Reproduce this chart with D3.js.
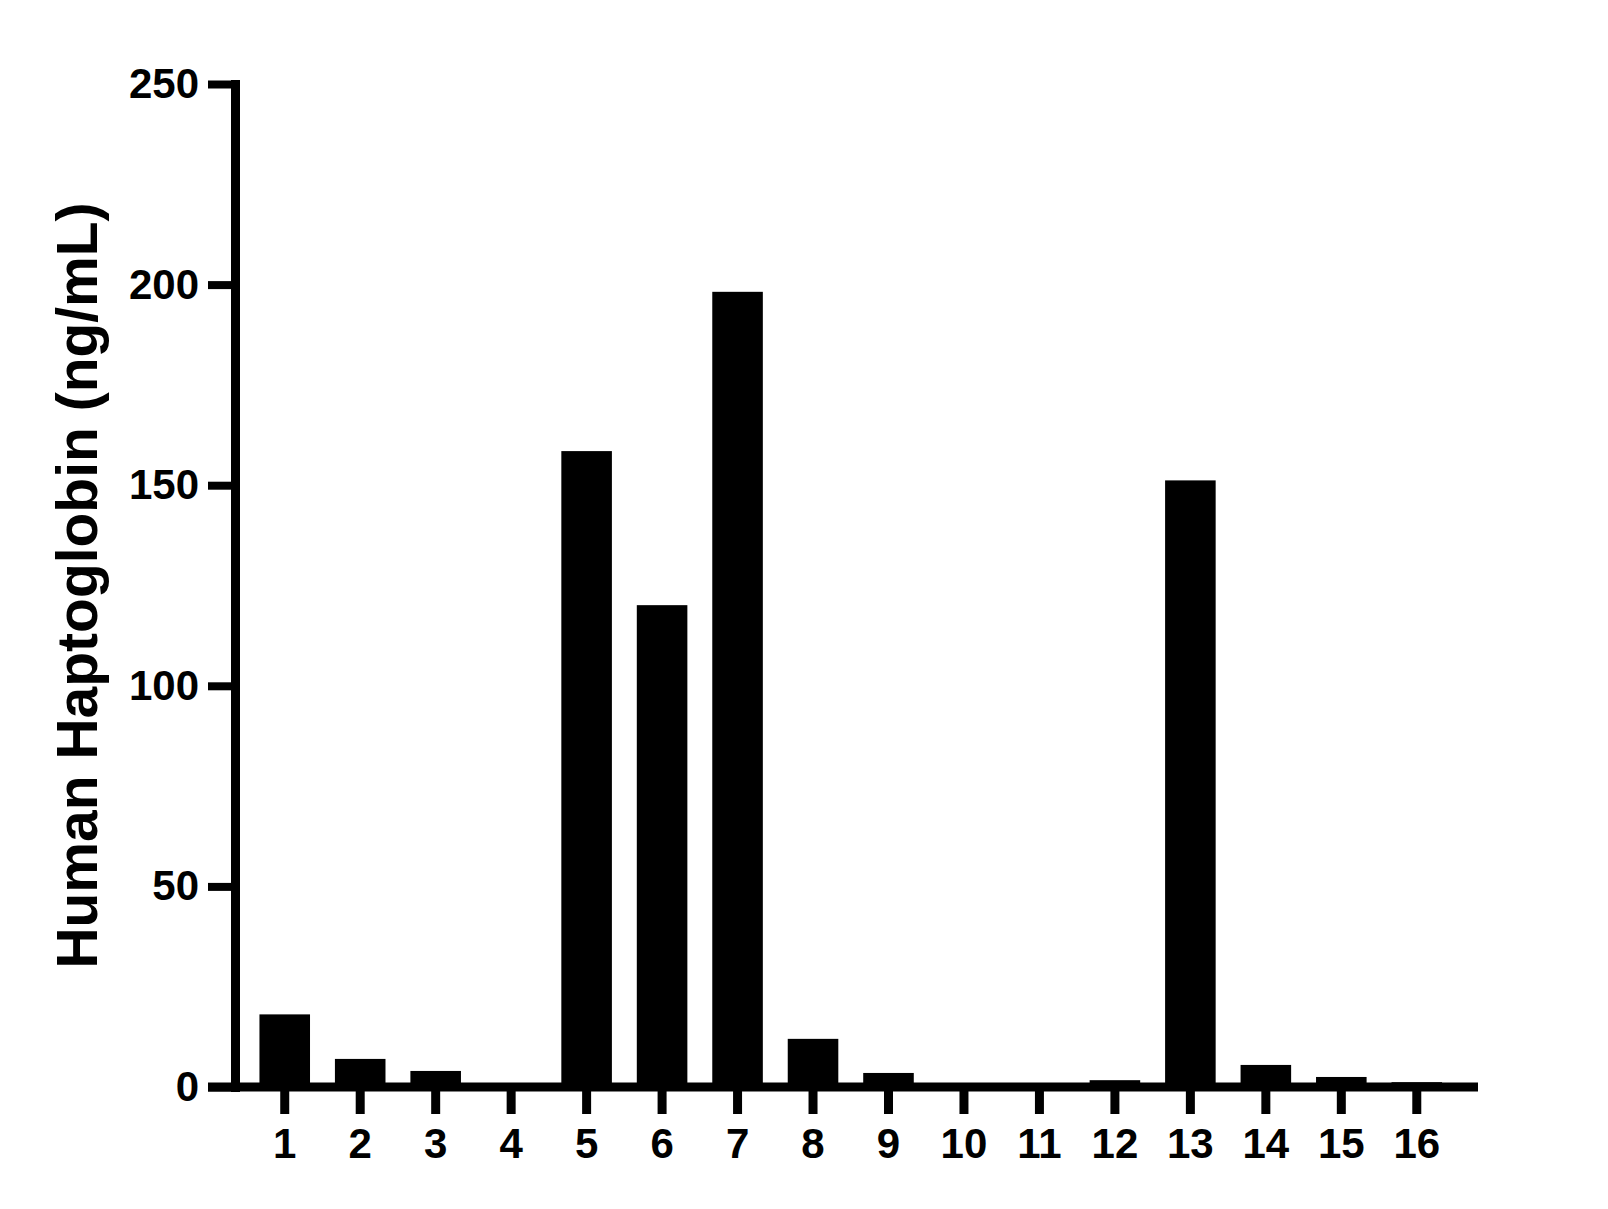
<!DOCTYPE html>
<html>
<head>
<meta charset="utf-8">
<script src="https://cdn.jsdelivr.net/npm/d3@7"></script>
<style>
  body { margin: 0; background: #fff; }
  svg text { font-family: "Liberation Sans", Arial, sans-serif; font-weight: bold; fill: #000; }
</style>
</head>
<body>
<div id="chart"></div>
<script>
// data
var samples = ["1","2","3","4","5","6","7","8","9","10","11","12","13","14","15","16"];
var haptoglobin = [18.1, 7.0, 4.0, 0.8, 158.5, 120.1, 198.2, 12.0, 3.5, 0.5, 0.5, 1.7, 151.2, 5.5, 2.5, 1.2];
var yTicks = [0, 50, 100, 150, 200, 250];

var svgWidth = 1608;
var svgHeight = 1209;

var svg = d3.select("#chart")
  .append("svg")
  .attr("width", svgWidth)
  .attr("height", svgHeight);

// scales
var step = 75.47;
var xStart = 247;
var xBandScale = d3.scaleBand()
  .domain(samples)
  .range([xStart, xStart + step * samples.length])
  .paddingInner(0.33)
  .paddingOuter(0.165);

var yLinearScale = d3.scaleLinear()
  .domain([0, 250])
  .range([1087, 84]);

var axisX = 235;

// bars
svg.selectAll("rect.bar")
  .data(haptoglobin)
  .enter()
  .append("rect")
  .attr("class", "bar")
  .attr("x", (d, i) => xBandScale(samples[i]))
  .attr("y", d => yLinearScale(d))
  .attr("width", xBandScale.bandwidth())
  .attr("height", d => yLinearScale(0) - yLinearScale(d))
  .attr("fill", "#000");

// y axis
var leftAxis = d3.axisLeft(yLinearScale)
  .tickValues(yTicks)
  .tickSize(27)
  .tickSizeOuter(0)
  .tickPadding(9);

var yAxisG = svg.append("g")
  .attr("transform", `translate(${axisX}, 0)`)
  .call(leftAxis);

yAxisG.select(".domain")
  .attr("stroke", "#000")
  .attr("stroke-width", 9)
  .attr("stroke-linecap", "square");
yAxisG.selectAll(".tick line")
  .attr("stroke", "#000")
  .attr("stroke-width", 8);
yAxisG.selectAll(".tick text")
  .attr("font-size", "42px")
  .attr("font-family", "Liberation Sans, Arial, sans-serif")
  .attr("font-weight", "bold");

// x axis
var bottomAxis = d3.axisBottom(xBandScale)
  .tickSize(27)
  .tickSizeOuter(0)
  .tickPadding(14);

var xAxisG = svg.append("g")
  .attr("transform", `translate(0, ${yLinearScale(0)})`)
  .call(bottomAxis);

xAxisG.select(".domain").remove();
xAxisG.selectAll(".tick line")
  .attr("stroke", "#000")
  .attr("stroke-width", 9);
xAxisG.selectAll(".tick text")
  .attr("font-size", "42px")
  .attr("font-family", "Liberation Sans, Arial, sans-serif")
  .attr("font-weight", "bold");

// baseline runs past the bars on both sides
svg.append("line")
  .attr("x1", axisX - 27)
  .attr("x2", 1478)
  .attr("y1", yLinearScale(0))
  .attr("y2", yLinearScale(0))
  .attr("stroke", "#000")
  .attr("stroke-width", 9);

// axis label
svg.append("text")
  .attr("transform", `translate(97, ${(yLinearScale(0) + yLinearScale(250)) / 2}) rotate(-90)`)
  .attr("text-anchor", "middle")
  .attr("font-size", "57px")
  .text("Human Haptoglobin (ng/mL)");
</script>
</body>
</html>
